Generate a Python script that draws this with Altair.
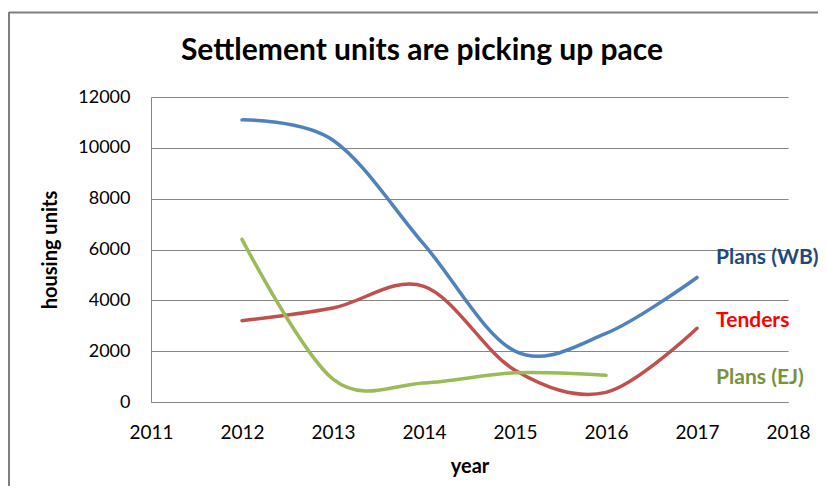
import altair as alt
import pandas as pd

# ---- data ----
years = [2012, 2013, 2014, 2015, 2016, 2017]
plans_wb = [11100, 10300, 6200, 2000, 2700, 4900]
tenders = [3200, 3700, 4550, 1250, 380, 2900]
ej_years = [2012, 2013, 2014, 2015, 2016]
plans_ej = [6400, 900, 750, 1150, 1050]

series_names = ["Plans (WB)", "Tenders", "Plans (EJ)"]
line_colors = ["#4F81BD", "#C0504D", "#9BBB59"]
label_colors = ["#1F497D", "#FF0000", "#77933C"]
label_year = [2017.21, 2017.21, 2017.21]
label_value = [5650, 3200, 930]

x_ticks = [2011, 2012, 2013, 2014, 2015, 2016, 2017, 2018]
y_ticks = [0, 2000, 4000, 6000, 8000, 10000, 12000]

FONT = "Lato"

rows = []
for y, v in zip(years, plans_wb):
    rows.append({"year": y, "units": v, "series": series_names[0]})
for y, v in zip(years, tenders):
    rows.append({"year": y, "units": v, "series": series_names[1]})
for y, v in zip(ej_years, plans_ej):
    rows.append({"year": y, "units": v, "series": series_names[2]})
df = pd.DataFrame(rows)

labels_df = pd.DataFrame({"year": label_year, "units": label_value, "label": series_names})

W, H = 637, 305

xscale = alt.Scale(domain=[2011, 2018], nice=False, zero=False)
yscale = alt.Scale(domain=[0, 12000], nice=False)

lines = alt.Chart(df).mark_line(
    interpolate="cardinal", tension=0, strokeWidth=3.5, strokeCap="round"
).encode(
    x=alt.X("year:Q", scale=xscale,
            axis=alt.Axis(values=x_ticks, format="d", title="year", grid=False,
                          ticks=False, labelPadding=21, labelFlush=False,
                          labelOverlap=False, labelFontSize=19,
                          domainColor="#868686",
                          titleX=W / 2, titleY=64, titleBaseline="middle")),
    y=alt.Y("units:Q", scale=yscale,
            axis=alt.Axis(values=y_ticks, format="d", title="housing units", grid=True,
                          ticks=False, labelPadding=21, domainColor="#868686",
                          gridColor="#868686", titleX=-101, titleY=H / 2,
                          titleBaseline="middle")),
    color=alt.Color("series:N", scale=alt.Scale(domain=series_names, range=line_colors),
                    legend=None),
    detail="series:N",
)

labels = alt.Chart(labels_df).mark_text(
    align="left", baseline="middle", font=FONT, fontSize=21, fontWeight="bold"
).encode(
    x=alt.X("year:Q", scale=xscale),
    y=alt.Y("units:Q", scale=yscale),
    text="label:N",
    color=alt.Color("label:N", scale=alt.Scale(domain=series_names, range=label_colors),
                    legend=None),
)

one = pd.DataFrame({"k": [0]})
title = alt.Chart(one).mark_text(
    text="Settlement units are picking up pace", font=FONT, fontSize=30,
    fontWeight="bold", align="center", baseline="middle", color="black"
).encode(x=alt.value(271), y=alt.value(-46))

border_top = alt.Chart(one).mark_rule(color="#7F7F7F", strokeWidth=2).encode(
    x=alt.value(-142), x2=alt.value(700), y=alt.value(-84.5))
border_left = alt.Chart(one).mark_rule(color="#7F7F7F", strokeWidth=2).encode(
    x=alt.value(-142), y=alt.value(-85), y2=alt.value(420))

chart = alt.layer(border_top, border_left, title, lines, labels).resolve_scale(
    color="independent"
).properties(
    width=W, height=H,
    autosize=alt.AutoSizeParams(type="none"),
    padding={"left": 143, "top": 89, "right": 30, "bottom": 84},
).configure_view(stroke=None).configure_axis(
    labelFont=FONT, labelFontSize=18, labelColor="black",
    titleFont=FONT, titleFontSize=20, titleFontWeight="bold", titleColor="black",
    domainWidth=1,
)

chart.save("out.html", embed_options={"renderer": "svg", "actions": False})
